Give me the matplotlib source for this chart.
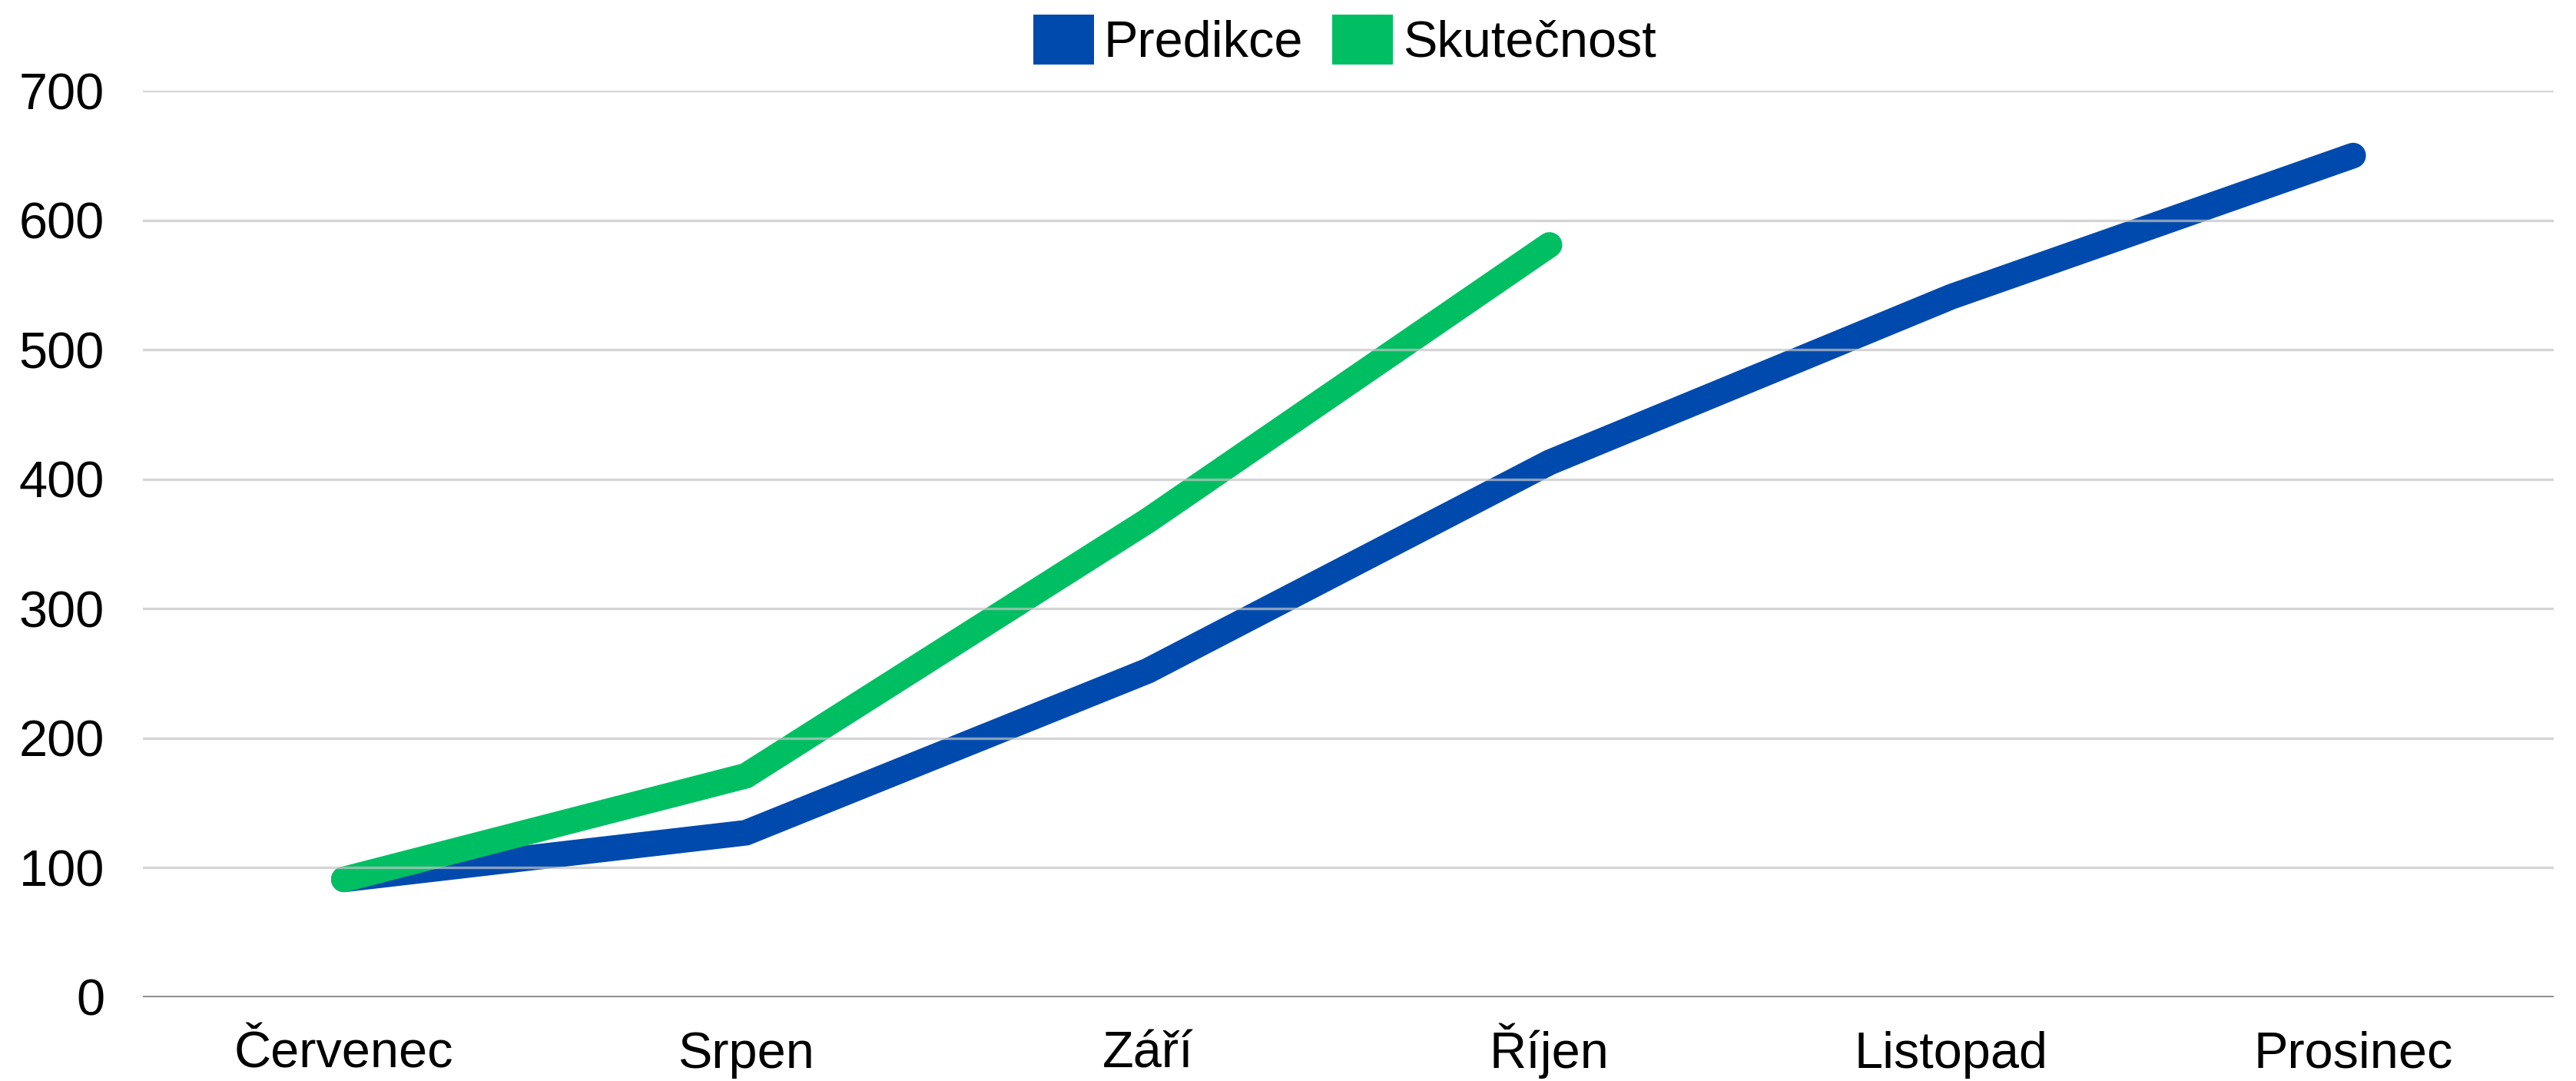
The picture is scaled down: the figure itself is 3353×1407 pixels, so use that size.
import matplotlib
matplotlib.use("Agg")
import matplotlib.pyplot as plt
from matplotlib.patches import Patch

months = ["Červenec", "Srpen", "Září", "Říjen", "Listopad", "Prosinec"]
predikce = [91, 127, 252, 413, 541, 650]
skutecnost = [91, 171, 368, 581]
yticks = [0, 100, 200, 300, 400, 500, 600, 700]

BLUE = "#004AAD"
GREEN = "#00BF63"

plt.rcParams["font.family"] = ["Liberation Sans", "DejaVu Sans"]

fig = plt.figure(figsize=(16.765, 7.035), dpi=200)
ax = fig.add_axes([0.0555, 0.0775, 0.936, 0.8385])

x_pred = list(range(len(predikce)))
x_skut = list(range(len(skutecnost)))
ax.plot(x_pred, predikce, color=BLUE, lw=12, solid_capstyle="round", solid_joinstyle="miter", zorder=2)
ax.plot(x_skut, skutecnost, color=GREEN, lw=12, solid_capstyle="round", solid_joinstyle="miter", zorder=2)

ax.set_xlim(-0.5, len(months) - 0.5)
ax.set_ylim(0, 700)
ax.set_xticks(range(len(months)))
ax.set_xticklabels(months)
ax.set_yticks(yticks)

for v in yticks[1:]:
    ax.axhline(v, color="#c4c4c4", lw=1.2, alpha=0.7, zorder=3)
ax.axhline(0, color="#8c8c8c", lw=1.4, zorder=3)

for s in ax.spines.values():
    s.set_visible(False)
ax.tick_params(axis="both", length=0, labelsize=24, colors="black")
ax.tick_params(axis="y", pad=18)
ax.tick_params(axis="x", pad=33)
for lab in ax.get_xticklabels():
    lab.set_verticalalignment("baseline")

handles = [Patch(facecolor=BLUE, edgecolor="none", label="Predikce"),
           Patch(facecolor=GREEN, edgecolor="none", label="Skutečnost")]
fig.legend(handles=handles, loc="center", bbox_to_anchor=(0.522, 0.962), ncol=2,
           frameon=False, fontsize=24, handlelength=1.19, handleheight=1.12,
           handletextpad=0.19, columnspacing=0.57)

fig.savefig("out.png", dpi=200, facecolor="white")
